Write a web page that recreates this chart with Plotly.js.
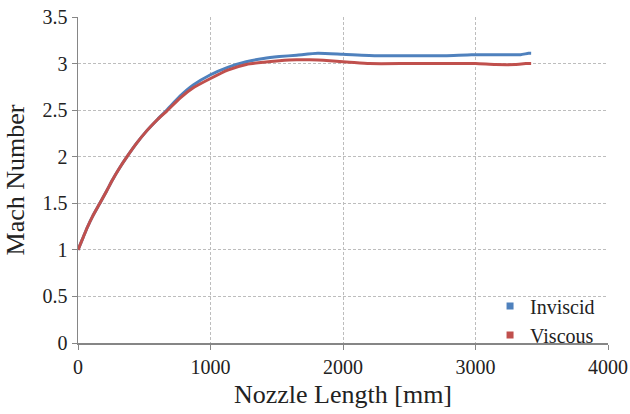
<!DOCTYPE html>
<html>
<head>
<meta charset="utf-8">
<script src="https://cdn.plot.ly/plotly-3.0.1.min.js"></script>
<style>html,body{margin:0;padding:0;background:#fff;}#chart{width:630px;height:414px;}</style>
</head>
<body>
<div id="chart"></div>
<pre id="out" style="position:absolute;top:150px;left:300px;font-size:9px;margin:0"></pre>
<script>
const seriesNames = ["Inviscid", "Viscous"];
const inviscidX = [0, 35, 70, 110, 165, 215, 260, 310, 370, 440, 520, 600, 670, 770, 870, 1000, 1130, 1270, 1400, 1520, 1650, 1810, 2000, 2260, 2500, 2770, 2970, 3200, 3340, 3400, 3420];
const inviscidM = [1.0, 1.12, 1.24, 1.36, 1.5, 1.63, 1.75, 1.87, 2.0, 2.14, 2.28, 2.40, 2.5, 2.65, 2.77, 2.88, 2.96, 3.02, 3.055, 3.075, 3.09, 3.11, 3.10, 3.085, 3.085, 3.085, 3.095, 3.095, 3.095, 3.11, 3.11];
const viscousX = [0, 35, 70, 110, 165, 215, 260, 310, 370, 440, 520, 600, 670, 770, 870, 1000, 1130, 1270, 1400, 1520, 1650, 1750, 1900, 2050, 2200, 2500, 2800, 3000, 3150, 3300, 3380, 3420];
const viscousM = [1.0, 1.12, 1.24, 1.36, 1.5, 1.63, 1.75, 1.87, 2.0, 2.14, 2.28, 2.40, 2.49, 2.63, 2.74, 2.84, 2.93, 2.99, 3.015, 3.03, 3.04, 3.04, 3.03, 3.015, 3.0, 3.0, 3.0, 3.0, 2.99, 2.99, 3.0, 3.0];
const xTicks = [0, 1000, 2000, 3000, 4000];
const yTicks = [0, 0.5, 1, 1.5, 2, 2.5, 3, 3.5];
const colors = ["#4F81BD", "#C0504D"];

const font = "Liberation Serif";
const traces = [
  {x: inviscidX, y: inviscidM, mode: "lines", line: {color: colors[0], width: 3, shape: "spline", smoothing: 0.5}, showlegend: false, name: seriesNames[0]},
  {x: viscousX, y: viscousM, mode: "lines", line: {color: colors[1], width: 3, shape: "spline", smoothing: 0.5}, showlegend: false, name: seriesNames[1]},
  {x: [null], y: [null], mode: "markers", marker: {symbol: "square", size: 7, color: colors[0]}, name: seriesNames[0]},
  {x: [null], y: [null], mode: "markers", marker: {symbol: "square", size: 7, color: colors[1]}, name: seriesNames[1]}
];
const layout = {
  width: 630, height: 414,
  margin: {l: 78, r: 22, t: 17, b: 71},
  paper_bgcolor: "#fff", plot_bgcolor: "#fff",
  font: {family: font, color: "#222"},
  xaxis: {
    range: [0, 4000], tickvals: xTicks,
    gridcolor: "#bdbdbd", griddash: "3px,2px", gridwidth: 1,
    showline: true, linecolor: "#868686", linewidth: 1.5,
    ticks: "outside", ticklen: 5, tickcolor: "#868686",
    tickfont: {size: 20, family: font, color: "#222"},
    zeroline: false,
    title: {text: "Nozzle Length [mm]", font: {size: 26, family: font, color: "#222"}, standoff: 8}
  },
  yaxis: {
    range: [0, 3.5], tickvals: yTicks,
    gridcolor: "#bdbdbd", griddash: "3px,2px", gridwidth: 1,
    showline: true, linecolor: "#868686", linewidth: 1.5,
    ticks: "outside", ticklen: 5, tickcolor: "#868686",
    tickfont: {size: 20, family: font, color: "#222"},
    zeroline: false,
    title: {text: "Mach Number", font: {size: 26, family: font, color: "#222"}, standoff: 10}
  },
  legend: {x: 0.985, xanchor: "right", y: -0.035, yanchor: "bottom", bgcolor: "rgba(0,0,0,0)",
    font: {size: 20, family: font, color: "#222"}, itemwidth: 30, tracegroupgap: 0},
  showlegend: true
};
Plotly.newPlot("chart", traces, layout, {displayModeBar: false, staticPlot: true}).then(function(){
  var t = document.querySelector('.xtick text');
  document.getElementById('out').setAttribute('data-font', getComputedStyle(t).fontFamily);
});
</script>
</body>
</html>
